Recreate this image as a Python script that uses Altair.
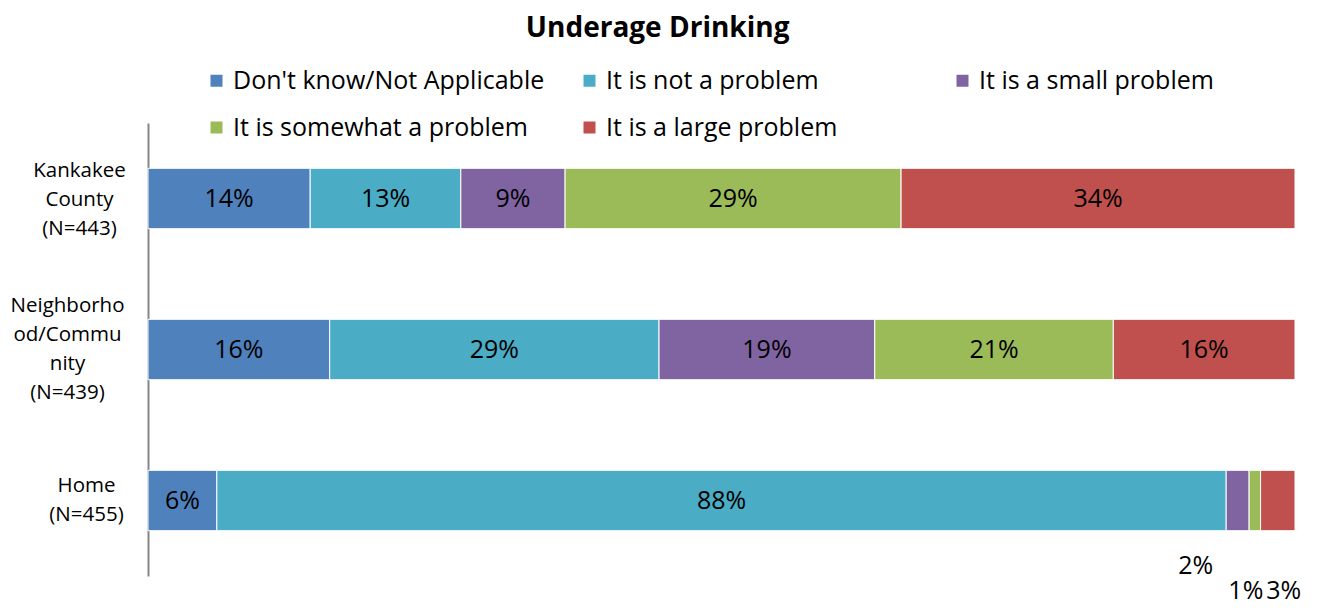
import altair as alt
import pandas as pd

groups = ["Kankakee|County|(N=443)", "Neighborho|od/Commu|nity|(N=439)", "Home|(N=455)"]
responses = ["Don't know/Not Applicable", "It is not a problem", "It is a small problem",
             "It is somewhat a problem", "It is a large problem"]
colors = ["#4F81BD", "#4BACC6", "#8064A2", "#9BBB59", "#C0504D"]
kankakee = [14, 13, 9, 29, 34]
neighborhood = [16, 29, 19, 21, 16]
home = [6, 88, 2, 1, 3]

rows = []
for g, vals in zip(groups, [kankakee, neighborhood, home]):
    for i, (r, v) in enumerate(zip(responses, vals)):
        rows.append({"group": g, "response": r, "order": i, "value": v})
df = pd.DataFrame(rows)

FONT = "Open Sans"

base = (
    alt.Chart(df)
    .transform_joinaggregate(total="sum(value)", groupby=["group"])
    .transform_window(cum="sum(value)", groupby=["group"], sort=[alt.SortField("order")], frame=[None, 0])
    .transform_calculate(mid="(datum.cum - datum.value/2)/datum.total", label="datum.value + '%'")
)

HOME = "datum.value == 'Home|(N=455)'"
NEIGH = "datum.value == 'Neighborho|od/Commu|nity|(N=439)'"

y_enc = alt.Y(
    "group:N",
    sort=groups,
    title=None,
    scale=alt.Scale(paddingInner=0.6, paddingOuter=0.3),
    axis=alt.Axis(
        labelExpr="split(datum.label, '|')",
        labelFont=FONT,
        labelFontSize=20.5,
        labelColor="black",
        labelLineHeight=29,
        labelAlign="center",
        labelBaseline="middle",
        labelPadding={
            "condition": [
                {"test": HOME, "value": 62},
                {"test": NEIGH, "value": 81},
            ],
            "value": 69,
        },
        labelOffset={
            "condition": [
                {"test": HOME, "value": -15},
                {"test": NEIGH, "value": -44},
            ],
            "value": -28,
        },
        ticks=False,
        tickSize=0,
        domainColor="#868686",
        domainWidth=2,
        grid=False,
        labelLimit=400,
    ),
)

bars = base.mark_bar(stroke="white", strokeWidth=1).encode(
    x=alt.X("value:Q", stack="normalize", scale=alt.Scale(domain=[0, 1], nice=False), axis=None),
    y=y_enc,
    color=alt.Color(
        "response:N",
        scale=alt.Scale(domain=responses, range=colors),
        legend=alt.Legend(
            orient="none", legendX=56, legendY=-55, direction="horizontal", columns=3,
            title=None, symbolType="square", symbolSize=144, symbolStrokeWidth=0,
            labelFont=FONT, labelFontSize=25, labelColor="black", labelLimit=600,
            columnPadding=32, rowPadding=21, gridAlign="all", labelOffset=4,
        ),
    ),
    order=alt.Order("order:Q"),
)

txt_style = dict(font=FONT, fontSize=25, color="black")

inbar = base.transform_filter("datum.value >= 5").mark_text(**txt_style).encode(
    x=alt.X("mid:Q"), y=y_enc, text="label:N"
)
small2 = base.transform_filter("datum.value < 5 && datum.order == 2").mark_text(dx=-42, dy=65, **txt_style).encode(
    x=alt.X("mid:Q"), y=y_enc, text="label:N"
)
small3 = base.transform_filter("datum.value < 5 && datum.order == 3").mark_text(dx=-9, dy=90, **txt_style).encode(
    x=alt.X("mid:Q"), y=y_enc, text="label:N"
)
small4 = base.transform_filter("datum.value < 5 && datum.order == 4").mark_text(dx=6, dy=90, **txt_style).encode(
    x=alt.X("mid:Q"), y=y_enc, text="label:N"
)

chart = (
    alt.layer(bars, inbar, small2, small3, small4)
    .properties(
        width=1147,
        height=453,
        autosize=alt.AutoSizeParams(type="none"),
        padding={"left": 140, "top": 115, "right": 16, "bottom": 29},
        title=alt.Title("Underage Drinking", font=FONT, fontSize=28, fontWeight="bold",
                        color="black", anchor="middle", frame="bounds", offset=25, dx=2),
    )
    .configure_view(stroke=None)
)

chart.save("out.html", embed_options={"renderer": "svg", "actions": False})
